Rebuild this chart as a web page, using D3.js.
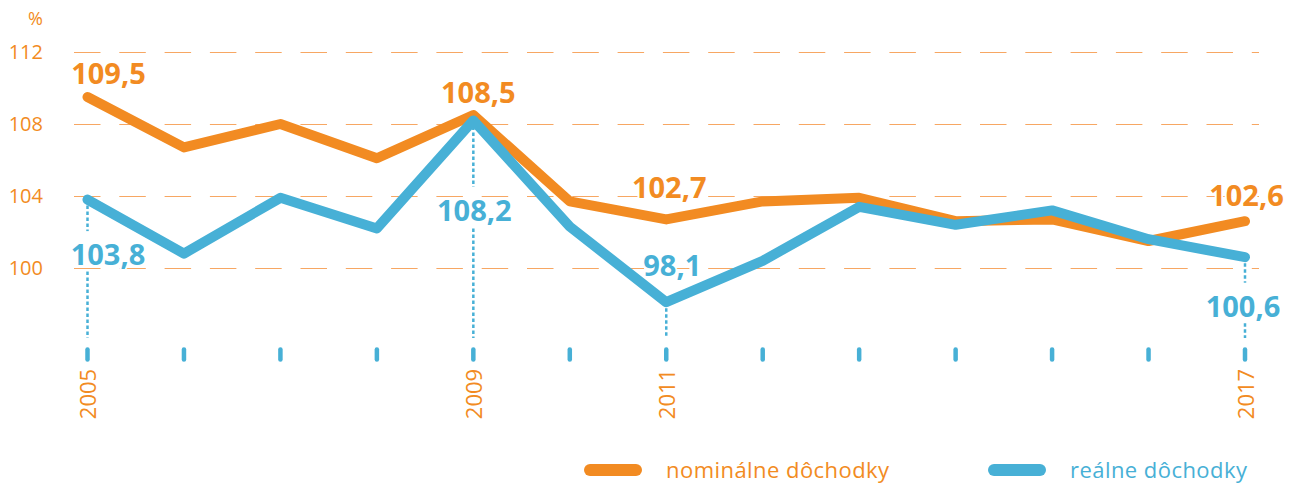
<!DOCTYPE html>
<html>
<head>
<meta charset="utf-8">
<script src="https://cdn.jsdelivr.net/npm/d3@7"></script>
<style>
  html, body { margin: 0; padding: 0; background: #fff; }
  svg { display: block; font-family: "Open Sans", "Noto Sans", sans-serif; }
</style>
</head>
<body>
<svg id="chart" width="1297" height="483"></svg>
<script>
// Year-on-year index of household income, previous year = 100
const years = [2005, 2006, 2007, 2008, 2009, 2010, 2011, 2012, 2013, 2014, 2015, 2016, 2017];
const nominal = [109.5, 106.7, 108.0, 106.1, 108.5, 103.7, 102.7, 103.7, 103.9, 102.6, 102.7, 101.5, 102.6];
const real    = [103.8, 100.8, 103.9, 102.2, 108.2, 102.3, 98.1, 100.4, 103.4, 102.4, 103.2, 101.6, 100.6];
const yTicks = [100, 104, 108, 112];
const labelledYears = [2005, 2009, 2011, 2017];
const seriesNames = ["nominálne dôchodky", "reálne dôchodky"];

const ORANGE = "#f28b22";
const BLUE = "#47b0d6";
const GRID = "#f7a763";

const svg = d3.select("#chart");

const x = d3.scaleLinear().domain([2005, 2017]).range([87.5, 1245]);
const y = d3.scaleLinear().domain([100, 112]).range([268, 52]);

const series = [
  { name: seriesNames[0], values: nominal, color: ORANGE },
  { name: seriesNames[1], values: real, color: BLUE }
];
const valueAt = (s, yr) => s.values[years.indexOf(yr)];
const fmt = v => d3.format(".1f")(v).replace(".", ",");

// Placement of the value callouts relative to their point
const callouts = [
  { s: 0, year: 2005, dx: 21,  dy: -13.5 },
  { s: 0, year: 2009, dx: 5,   dy: -12 },
  { s: 0, year: 2011, dx: 3,   dy: -21 },
  { s: 0, year: 2017, dx: 1.5, dy: -15 },
  { s: 1, year: 2005, dx: 20.5, dy: 65.5 },
  { s: 1, year: 2009, dx: 1,   dy: 100.5 },
  { s: 1, year: 2011, dx: 6,   dy: -26 },
  { s: 1, year: 2017, dx: -2,  dy: 59.5 }
];

// Dotted drop lines from the blue series down to the axis
const drop = svg.append("g");
labelledYears.forEach(yr => {
  drop.append("line")
    .attr("x1", x(yr)).attr("x2", x(yr))
    .attr("y1", y(valueAt(series[1], yr))).attr("y2", 338)
    .attr("stroke", BLUE).attr("stroke-width", 2.5)
    .attr("stroke-dasharray", "3.5,2.5");
});

// White boxes that break the drop lines behind the callouts
const boxes = svg.append("g");

// Horizontal dashed grid
const grid = svg.append("g");
grid.selectAll("line").data(yTicks).join("line")
  .attr("x1", 74).attr("x2", 1259)
  .attr("y1", d => Math.round(y(d)) + 0.5).attr("y2", d => Math.round(y(d)) + 0.5)
  .attr("stroke", GRID).attr("stroke-width", 1)
  .attr("stroke-dasharray", "26.5,18.8");

// Y axis labels
const yAxis = d3.axisLeft(y).tickValues(yTicks).tickSize(0).tickPadding(0);
const gy = svg.append("g").attr("transform", "translate(43,0)").call(yAxis);
gy.select(".domain").remove();
gy.selectAll("text")
  .attr("fill", ORANGE).attr("font-size", 20)
  .attr("font-family", "'Open Sans', sans-serif");
svg.append("text").attr("x", 43).attr("y", 25).attr("text-anchor", "end")
  .attr("fill", ORANGE).attr("font-size", 18).text("%");

// X axis: short rounded ticks and selected year labels
const xAxisG = svg.append("g");
xAxisG.selectAll("line").data(years).join("line")
  .attr("x1", d => x(d)).attr("x2", d => x(d))
  .attr("y1", 349.5).attr("y2", 359.5)
  .attr("stroke", BLUE).attr("stroke-width", 4.5).attr("stroke-linecap", "round");
xAxisG.selectAll("text").data(labelledYears).join("text")
  .attr("transform", d => `translate(${x(d) + 8.5},394) rotate(-90)`)
  .attr("text-anchor", "middle")
  .attr("fill", ORANGE).attr("font-size", 22)
  .text(d => d);

// Series lines
const line = d3.line().x((d, i) => x(years[i])).y(d => y(d));
svg.append("g").selectAll("path").data(series).join("path")
  .attr("d", d => line(d.values))
  .attr("fill", "none").attr("stroke", d => d.color)
  .attr("stroke-width", 10).attr("stroke-linecap", "round").attr("stroke-linejoin", "round");

// Value callouts
const labels = svg.append("g");
callouts.forEach(c => {
  const s = series[c.s];
  const v = valueAt(s, c.year);
  const px = x(c.year) + c.dx, py = y(v) + c.dy;
  const t = labels.append("text")
    .attr("x", px).attr("y", py).attr("text-anchor", "middle")
    .attr("font-size", 29).attr("font-weight", 700)
    .attr("fill", s.color)
    .attr("stroke", "#fff").attr("stroke-width", 4).attr("stroke-linejoin", "round")
    .attr("paint-order", "stroke")
    .text(fmt(v));
  const bb = t.node().getBBox();
  boxes.append("rect")
    .attr("x", bb.x).attr("width", bb.width)
    .attr("y", py - 34).attr("height", 40)
    .attr("fill", "#fff");
});

// Legend
const legend = svg.append("g");
const legendX = [590, 994];
series.forEach((s, i) => {
  const g = legend.append("g").attr("transform", `translate(${legendX[i]},470)`);
  g.append("line").attr("x1", 0).attr("x2", 46).attr("y1", 0).attr("y2", 0)
    .attr("stroke", s.color).attr("stroke-width", 12).attr("stroke-linecap", "round");
  g.append("text").attr("x", 76).attr("y", 7.5)
    .attr("fill", s.color).attr("font-size", 22).attr("letter-spacing", 0.45)
    .text(s.name);
});
</script>
</body>
</html>
